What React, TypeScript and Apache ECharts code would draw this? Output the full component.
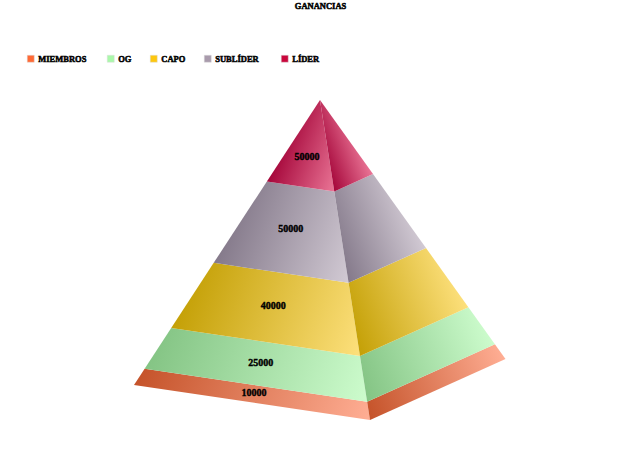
import React, { useEffect, useRef } from "react";
import * as echarts from "echarts";

const TITLE = "GANANCIAS";
const categories = ["MIEMBROS", "OG", "CAPO", "SUBLÍDER", "LÍDER"];
const values = [10000, 25000, 40000, 50000, 50000];
const legendColors = ["#ff6a35", "#aaf8aa", "#fdc70f", "#a99bac", "#c9063c"];
const darkColors = ["#c5532a", "#84c484", "#c4a006", "#84798a", "#a5063a"];
const lightColors = ["#ffae94", "#cdfccd", "#fde07c", "#d2cad4", "#ea7596"];

const FONT = "'Liberation Serif'";
const apex = [320, 100];
const leftCorner = [134, 385];
const frontCorner = [370, 420];
const rightCorner = [505.5, 359];
const total = values.reduce((a, b) => a + b, 0);
const topY = 100;
const plotH = 320;
const legendLefts = [22, 102, 145, 199, 276];

const along = (c: number[], t: number) => [c[0] + (apex[0] - c[0]) * t, c[1] + (apex[1] - c[1]) * t];

const grad = (p0: number[], p1: number[], angle: number, i: number) => {
  const dx = Math.cos(angle);
  const dy = Math.sin(angle);
  const len = (p1[0] - p0[0]) * dx + (p1[1] - p0[1]) * dy;
  return new echarts.graphic.LinearGradient(
    p0[0],
    p0[1],
    p0[0] + dx * len,
    p0[1] + dy * len,
    [
      { offset: 0, color: darkColors[i] },
      { offset: 1, color: lightColors[i] },
    ],
    true
  );
};

const TILT = (20 * Math.PI) / 180;

let running = 0;
const starts = values.map((v) => {
  const s = running;
  running += v;
  return s;
});

export default function App() {
  const ref = useRef<HTMLDivElement>(null);
  useEffect(() => {
    const chart = echarts.init(ref.current!, undefined, { renderer: "svg" });
    const series = categories.map((name, i) => ({
      name,
      type: "custom",
      silent: true,
      itemStyle: { color: legendColors[i] },
      data: [[starts[i], starts[i] + values[i], values[i]]],
      encode: { y: [0, 1] },
      clip: false,
      renderItem: (_p: any, api: any) => {
        const baseY = api.coord([0, api.value(0)])[1];
        const headY = api.coord([0, api.value(1)])[1];
        const t0 = (topY + plotH - baseY) / plotH;
        const t1 = (topY + plotH - headY) / plotH;
        const l0 = along(leftCorner, t0);
        const l1 = along(leftCorner, t1);
        const f0 = along(frontCorner, t0);
        const f1 = along(frontCorner, t1);
        const r0 = along(rightCorner, t0);
        const r1 = along(rightCorner, t1);
        const isTip = t1 > 0.999;
        const cx = isTip ? (l0[0] + f0[0] + apex[0]) / 3 : (l0[0] + l1[0] + f0[0] + f1[0]) / 4;
        const cy = isTip ? (l0[1] + f0[1] + apex[1]) / 3 : (l0[1] + l1[1] + f0[1] + f1[1]) / 4;
        return {
          type: "group",
          children: [
            {
              type: "polygon",
              shape: { points: [l0, f0, f1, l1] },
              style: { fill: grad(l0, f0, TILT, i) },
            },
            {
              type: "polygon",
              shape: { points: [f0, r0, r1, f1] },
              style: { fill: grad(f0, r0, -TILT, i) },
            },
            {
              type: "text",
              x: cx,
              y: cy - 1.5,
              style: {
                text: String(api.value(2)),
                fontFamily: FONT,
                fontWeight: "bold",
                fontSize: 10,
                fill: "#000",
                stroke: "#000",
                lineWidth: 0.4,
                align: "center",
                verticalAlign: "middle",
              },
            },
          ],
        };
      },
    }));
    chart.setOption({
      animation: false,
      backgroundColor: "#fff",
      title: {
        text: TITLE,
        left: 315.5,
        textAlign: "center",
        top: -4,
        textStyle: {
          fontFamily: FONT,
          fontWeight: "bold",
          fontSize: 8.5,
          color: "#000",
          textBorderColor: "#000",
          textBorderWidth: 0.5,
        },
      },
      legend: categories.map((name, i) => ({
        left: legendLefts[i],
        top: 49,
        icon: "rect",
        itemWidth: 7,
        itemHeight: 7,
        selectedMode: false,
        data: [name],
        itemStyle: { borderColor: "#dddddd", borderWidth: 0.5 },
        textStyle: {
          fontFamily: FONT,
          fontWeight: "bold",
          fontSize: 8.5,
          color: "#000",
          textBorderColor: "#000",
          textBorderWidth: 0.5,
          padding: [0, 0, 0, -1],
        },
      })),
      grid: { left: 0, right: 0, top: topY, height: plotH },
      xAxis: { type: "value", min: 0, max: 1, show: false },
      yAxis: { type: "value", min: 0, max: total, show: false },
      series,
    } as any);
    return () => chart.dispose();
  }, []);
  return <div ref={ref} style={{ position: "fixed", left: 0, top: 0, width: 640, height: 471 }} />;
}
